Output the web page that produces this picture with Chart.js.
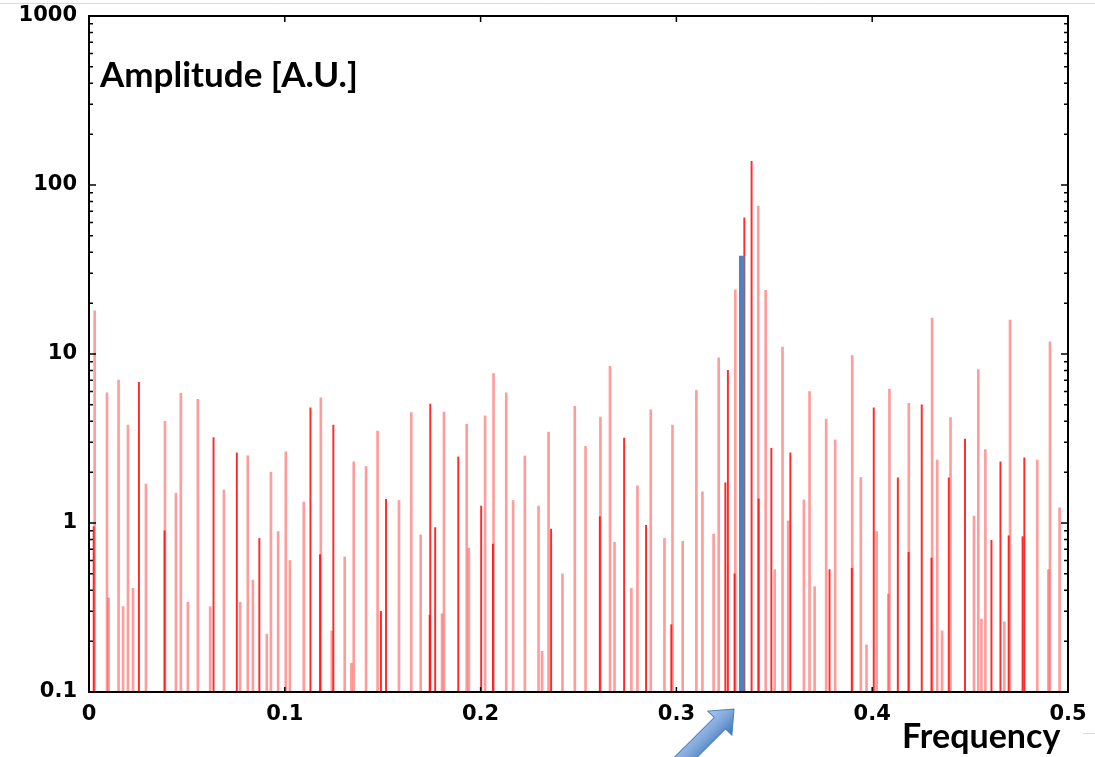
<!DOCTYPE html>
<html lang="en">
<head>
    <meta charset="UTF-8">
    <title>Amplitude spectrum</title>
    <script src="https://cdn.jsdelivr.net/npm/chart.js"></script>
    <style>
        html, body { margin: 0; padding: 0; background: #fff; }
        #wrap { position: relative; width: 1095px; height: 757px; }
    </style>
</head>
<body>
<div id="wrap"><canvas id="spectrum" width="1095" height="757"></canvas></div>
<script>
    // pale red spikes (frequency / amplitude)
    const lightFreq = [0.0029, 0.0092, 0.0100, 0.0151, 0.0174, 0.0199, 0.0225, 0.0291, 0.0388, 0.0444,
        0.0469, 0.0505, 0.0556, 0.0619, 0.0689, 0.0772, 0.0811, 0.0837, 0.0908, 0.0929,
        0.0966, 0.1005, 0.1026, 0.1097, 0.1184, 0.1240, 0.1306, 0.1340, 0.1352, 0.1415,
        0.1474, 0.1583, 0.1646, 0.1694, 0.1803, 0.1813, 0.1929, 0.1940, 0.2023, 0.2066,
        0.2131, 0.2166, 0.2226, 0.2296, 0.2314, 0.2347, 0.2418, 0.2481, 0.2536, 0.2612,
        0.2661, 0.2684, 0.2770, 0.2801, 0.2869, 0.2939, 0.2980, 0.3032, 0.3102, 0.3133,
        0.3190, 0.3216, 0.3301, 0.3418, 0.3456, 0.3502, 0.3542, 0.3571, 0.3651, 0.3680,
        0.3706, 0.3765, 0.3811, 0.3898, 0.3942, 0.3971, 0.4023, 0.4082, 0.4088, 0.4187,
        0.4306, 0.4332, 0.4357, 0.4400, 0.4520, 0.4542, 0.4558, 0.4578, 0.4675, 0.4704,
        0.4843, 0.4900, 0.4908, 0.4957];
    const lightAmp = [18, 5.9, 0.36, 7.0, 0.32, 3.8, 0.41, 1.7, 4.0, 1.5,
        5.85, 0.34, 5.4, 0.32, 1.57, 0.34, 2.5, 0.46, 0.22, 2.0,
        0.89, 2.64, 0.6, 1.33, 5.5, 0.23, 0.63, 0.148, 2.3, 2.16,
        3.5, 1.36, 4.5, 0.85, 0.29, 4.54, 3.84, 0.71, 4.3, 7.65,
        5.9, 1.36, 2.49, 1.26, 0.174, 3.45, 0.5, 4.9, 2.84, 4.24,
        8.46, 0.77, 0.41, 1.66, 4.67, 0.81, 3.8, 0.78, 6.1, 1.53,
        0.86, 9.5, 24, 75, 23.8, 0.53, 11, 1.03, 1.37, 6.0,
        0.42, 4.12, 3.1, 9.8, 1.86, 0.19, 0.89, 0.38, 6.2, 5.1,
        16.3, 2.36, 0.23, 4.2, 1.1, 8.1, 0.27, 2.72, 0.26, 15.9,
        2.36, 0.53, 11.8, 1.23];

    // saturated red spikes
    const darkFreq = [0.0024, 0.0255, 0.0386, 0.0636, 0.0755, 0.0870, 0.1131, 0.1180, 0.1248, 0.1491,
        0.1517, 0.1740, 0.1743, 0.1768, 0.1886, 0.2003, 0.2063, 0.2360, 0.2609, 0.2733,
        0.2845, 0.2974, 0.3250, 0.3263, 0.3297, 0.3347, 0.3384, 0.3420, 0.3485, 0.3582,
        0.3782, 0.3896, 0.4008, 0.4131, 0.4186, 0.4253, 0.4303, 0.4391, 0.4474, 0.4609,
        0.4655, 0.4697, 0.4768, 0.4777];
    const darkAmp = [0.95, 6.8, 0.9, 3.2, 2.6, 0.81, 4.8, 0.65, 3.8, 0.3,
        1.38, 0.285, 5.06, 0.94, 2.46, 1.26, 0.75, 0.92, 1.09, 3.18,
        0.97, 0.25, 1.73, 8.0, 0.5, 64, 138, 1.39, 2.77, 2.6,
        0.53, 0.54, 4.8, 1.85, 0.67, 5.0, 0.62, 1.85, 3.14, 0.79,
        2.3, 0.84, 0.83, 2.43];

    // highlighted component
    const peakFreq = [0.3334];
    const peakAmp = [38];

    const xTicks = [0, 0.1, 0.2, 0.3, 0.4, 0.5];
    const yTicks = [0.1, 1, 10, 100, 1000];

    const toPoints = (fs, as) => fs.map((f, i) => ({ x: f, y: as[i] }));

    // frame, inward ticks, labels inside the plot and the arrow
    const framePlugin = {
        id: 'frame',
        beforeDraw(chart) {
            const ctx = chart.ctx;
            ctx.save();
            ctx.strokeStyle = '#d9d9d9';
            ctx.lineWidth = 1;
            ctx.beginPath();
            ctx.moveTo(0, 3.5); ctx.lineTo(1095, 3.5);
            ctx.moveTo(1083, 733.5); ctx.lineTo(1095, 733.5);
            ctx.stroke();
            ctx.restore();
        },
        afterDatasetsDraw(chart) {
            const ctx = chart.ctx;
            const a = chart.chartArea;
            const x = chart.scales.x, y = chart.scales.y;
            ctx.save();
            ctx.strokeStyle = '#000';
            ctx.lineWidth = 1.5;
            ctx.beginPath();
            // minor / major log ticks on left and right
            for (let d = -1; d < 3; d++) {
                for (let m = 1; m < 10; m++) {
                    const v = m * Math.pow(10, d);
                    const py = y.getPixelForValue(v);
                    const len = m === 1 ? 7 : 4;
                    ctx.moveTo(a.left, py); ctx.lineTo(a.left + len, py);
                    ctx.moveTo(a.right, py); ctx.lineTo(a.right - len, py);
                }
            }
            xTicks.forEach(v => {
                const px = x.getPixelForValue(v);
                ctx.moveTo(px, a.bottom); ctx.lineTo(px, a.bottom - 5);
                ctx.moveTo(px, a.top); ctx.lineTo(px, a.top + 6);
            });
            ctx.stroke();
            ctx.lineWidth = 2;
            ctx.strokeRect(a.left, a.top, a.right - a.left, a.bottom - a.top);

            ctx.fillStyle = '#000';
            ctx.textBaseline = 'alphabetic';
            ctx.textAlign = 'left';
            ctx.font = 'bold 35px Lato';
            ctx.fillText('Amplitude [A.U.]', 100, 87);
            ctx.font = 'bold 34px Lato';
            ctx.fillText('Frequency', 902, 748);

            // blue arrow pointing at the highlighted bar
            ctx.translate(734, 709);
            ctx.rotate(Math.PI * 3 / 4);
            const g = ctx.createLinearGradient(0, -17, 0, 17);
            g.addColorStop(0, '#3f72b0');
            g.addColorStop(0.5, '#7ea6dc');
            g.addColorStop(1, '#a9c6ee');
            ctx.fillStyle = g;
            ctx.strokeStyle = '#4a7ebb';
            ctx.lineWidth = 1;
            ctx.beginPath();
            ctx.moveTo(0, 0);
            ctx.lineTo(20, -17);
            ctx.lineTo(20, -8);
            ctx.lineTo(110, -8);
            ctx.lineTo(110, 8);
            ctx.lineTo(20, 8);
            ctx.lineTo(20, 17);
            ctx.closePath();
            ctx.fill();
            ctx.stroke();
            ctx.restore();
        }
    };

    const tickFont = { family: 'DejaVu Sans', size: 21, weight: 'bold' };

    new Chart(document.getElementById('spectrum'), {
        type: 'bar',
        data: {
            datasets: [
                {
                    label: 'peak',
                    data: toPoints(peakFreq, peakAmp),
                    backgroundColor: '#4f81bd',
                    barThickness: 5,
                    grouped: false
                },
                {
                    label: 'dark',
                    data: toPoints(darkFreq, darkAmp),
                    backgroundColor: 'rgba(255, 20, 20, 0.9)',
                    barThickness: 1.3,
                    grouped: false
                },
                {
                    label: 'light',
                    data: toPoints(lightFreq, lightAmp),
                    backgroundColor: 'rgba(255, 60, 60, 0.5)',
                    barThickness: 2,
                    grouped: false
                }
            ]
        },
        options: {
            responsive: false,
            animation: false,
            layout: { padding: { top: 16, right: 27, left: 0, bottom: 0 } },
            plugins: { legend: { display: false }, tooltip: { enabled: false } },
            scales: {
                x: {
                    type: 'linear',
                    min: 0,
                    max: 0.5,
                    offset: false,
                    grid: { display: false, drawTicks: false },
                    border: { display: false },
                    afterBuildTicks: s => { s.ticks = xTicks.map(v => ({ value: v })); },
                    afterFit: s => { s.height = 65; s.paddingLeft = 0; s.paddingRight = 0; },
                    ticks: {
                        font: tickFont,
                        color: '#000',
                        padding: 10,
                        maxRotation: 0,
                        callback: v => String(v)
                    }
                },
                y: {
                    type: 'logarithmic',
                    min: 0.1,
                    max: 1000,
                    grid: { display: false, drawTicks: false },
                    border: { display: false },
                    afterBuildTicks: s => { s.ticks = yTicks.map(v => ({ value: v })); },
                    afterFit: s => { s.width = 89; s.paddingTop = 0; s.paddingBottom = 0; },
                    ticks: {
                        font: tickFont,
                        color: '#000',
                        padding: 12,
                        callback: v => String(v)
                    }
                }
            }
        },
        plugins: [framePlugin]
    });
</script>
</body>
</html>
